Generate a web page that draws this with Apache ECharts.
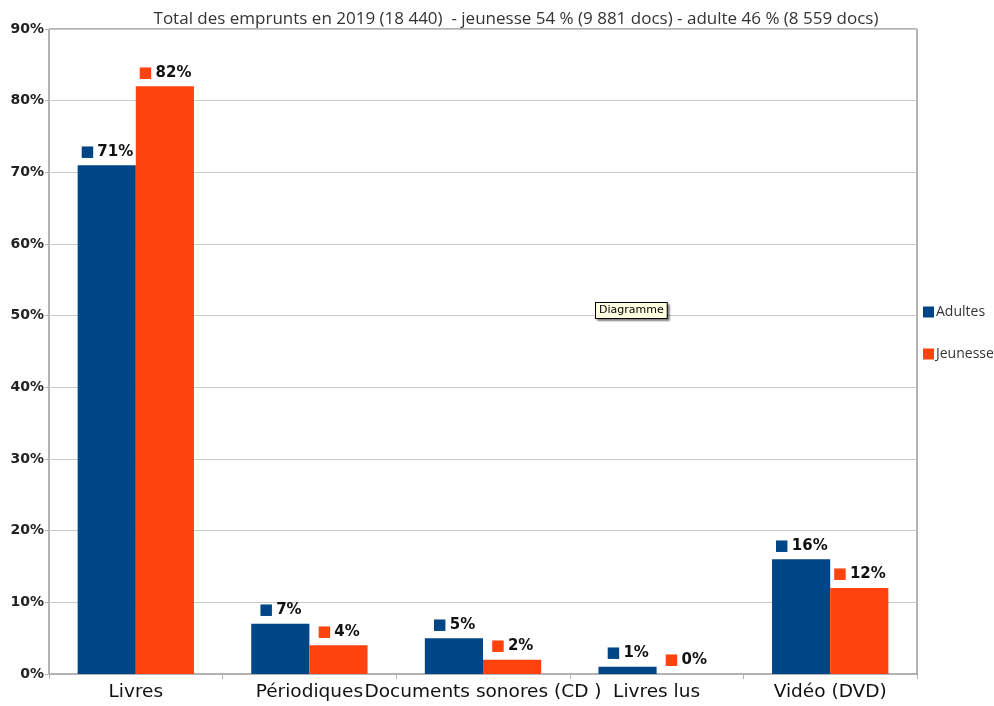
<!DOCTYPE html>
<html>
<head>
<meta charset="utf-8">
<script src="https://cdn.jsdelivr.net/npm/echarts@6/dist/echarts.min.js"></script>
<style>
  html, body { margin: 0; padding: 0; background: #fff; }
  #main { width: 994px; height: 706px; }
</style>
</head>
<body>
<div id="main"></div>
<script>
// données
var categories = ['Livres', 'Périodiques', 'Documents sonores (CD )', 'Livres lus', 'Vidéo (DVD)'];
var adultes = [71, 7, 5, 1, 16];
var jeunesse = [82, 4, 2, 0, 12];
var seriesNames = ['Adultes', 'Jeunesse'];
var colors = ['#004586', '#ff420e'];

function barLabel(color) {
    return {
        show: true,
        position: 'top',
        distance: 6,
        formatter: function (p) { return '{sq|■}{v|' + p.value + '%}'; },
        rich: {
            sq: { color: color, fontSize: 15, fontFamily: 'DejaVu Sans', padding: [0, 3, 0, 0] },
            v: { color: '#111', fontSize: 15, fontWeight: 'bold', fontFamily: 'DejaVu Sans' }
        }
    };
}

var myChart = echarts.init(document.getElementById('main'));
var option = {
    animation: false,
    color: colors,
    title: {
        text: 'Total des emprunts en 2019 (18 440)  - jeunesse 54 % (9 881 docs) - adulte 46 % (8 559 docs)',
        left: 511,
        textAlign: 'center',
        top: 6,
        textStyle: { fontSize: 17, fontWeight: 'normal', color: '#333', fontFamily: 'Open Sans' }
    },
    legend: {
        orient: 'vertical',
        left: 918,
        top: 300,
        itemGap: 28,
        itemWidth: 11,
        itemHeight: 11,
        icon: 'rect',
        data: seriesNames,
        textStyle: { fontSize: 14, color: '#333', fontFamily: 'Open Sans', padding: [0, 0, 0, -3] }
    },
    grid: {
        left: 49,
        right: 77,
        top: 29,
        bottom: 32,
        show: true,
        borderColor: '#666',
        borderWidth: 1
    },
    xAxis: {
        type: 'category',
        data: categories,
        axisLine: { lineStyle: { color: '#b3b3b3' } },
        axisTick: { show: true, length: 5, lineStyle: { color: '#b3b3b3' } },
        axisLabel: { interval: 0, fontSize: 18.5, color: '#111', fontFamily: 'DejaVu Sans', margin: 9 }
    },
    yAxis: {
        type: 'value',
        min: 0,
        max: 90,
        interval: 10,
        axisLine: { show: true, lineStyle: { color: '#b3b3b3' } },
        axisTick: { show: true, length: 4, lineStyle: { color: '#b3b3b3' } },
        axisLabel: { formatter: '{value}%', fontSize: 14, fontWeight: 'bold', color: '#222', fontFamily: 'DejaVu Sans', margin: 5 },
        splitLine: { lineStyle: { color: '#c8c8c8' } }
    },
    series: [
        { name: seriesNames[0], type: 'bar', data: adultes, barGap: '0%', barCategoryGap: '33%', label: barLabel(colors[0]) },
        { name: seriesNames[1], type: 'bar', data: jeunesse, barGap: '0%', barCategoryGap: '33%', label: barLabel(colors[1]) }
    ],
    graphic: [
        {
            type: 'text',
            left: 595,
            top: 302,
            z: 100,
            style: {
                text: 'Diagramme',
                fontSize: 11,
                fontFamily: 'DejaVu Sans',
                fill: '#000',
                backgroundColor: '#ffffe1',
                borderColor: '#000',
                borderWidth: 1,
                padding: [2, 3],
                shadowColor: 'rgba(0,0,0,0.4)',
                shadowOffsetX: 2,
                shadowOffsetY: 2,
                shadowBlur: 2
            }
        }
    ]
};
myChart.setOption(option);
</script>
</body>
</html>
